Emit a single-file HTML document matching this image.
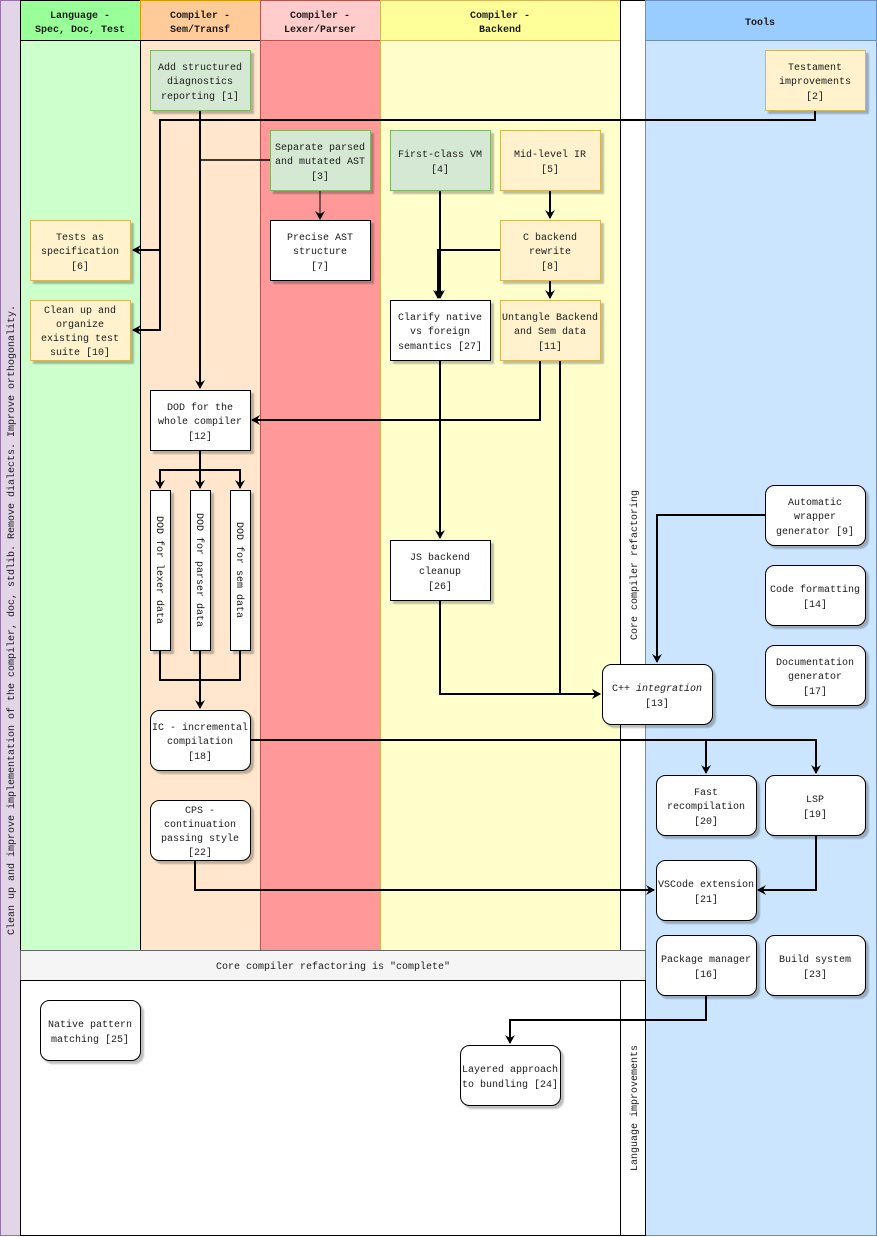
<!DOCTYPE html>
<html><head><meta charset="utf-8"><style>
html,body{margin:0;padding:0;background:#fff}
svg{display:block}
text{font-family:"Liberation Mono","DejaVu Sans Mono",monospace;font-size:10px;fill:#1a1a1a}
.b{font-weight:bold}
</style></head><body>
<svg width="877" height="1237" viewBox="0 0 877 1237" xmlns="http://www.w3.org/2000/svg">
<defs>
<filter id="sh" x="-10%" y="-10%" width="130%" height="130%"><feDropShadow dx="3" dy="3" stdDeviation="0.8" flood-color="#000" flood-opacity="0.25"/></filter>
<marker id="a" markerWidth="10" markerHeight="10" refX="8" refY="5" orient="auto" markerUnits="userSpaceOnUse"><path d="M0,0 L9,5 L0,10 L3,5 Z" fill="#000"/></marker>
</defs>
<!-- left purple bar -->
<rect x="0.5" y="0.5" width="20" height="1235" fill="#e1d5e7" stroke="#9673a6"/>
<text transform="translate(14,620) rotate(-90)" text-anchor="middle">Clean up and improve implementation of the compiler, doc, stdlib. Remove dialects. Improve orthogonality.</text>
<!-- columns -->
<rect x="20.5" y="0.5" width="120" height="40" fill="#99ff99" stroke="#000"/>
<rect x="20.5" y="40.5" width="120" height="910" fill="#ccffcc" stroke="#000"/>
<rect x="140.5" y="0.5" width="120" height="40" fill="#ffcc99" stroke="#d79b00"/>
<rect x="140.5" y="40.5" width="120" height="910" fill="#ffe6cc" stroke="#000"/>
<rect x="260.5" y="0.5" width="120" height="40" fill="#ffcccc" stroke="#b85450"/>
<rect x="260.5" y="40.5" width="120" height="910" fill="#ff9999" stroke="#b85450"/>
<rect x="380.5" y="0.5" width="240" height="40" fill="#ffff99" stroke="#d6b656"/>
<rect x="380.5" y="40.5" width="240" height="910" fill="#ffffcc" stroke="#d6b656"/>
<rect x="620.5" y="0.5" width="25" height="950" fill="#fff" stroke="#000"/>
<rect x="645.5" y="0.5" width="231" height="40" fill="#99ccff" stroke="#6c8ebf"/>
<rect x="645.5" y="40.5" width="231" height="1195" fill="#cce5ff" stroke="#6c8ebf"/>
<text class="b" x="80" y="18" text-anchor="middle">Language -</text>
<text class="b" x="80" y="32" text-anchor="middle">Spec, Doc, Test</text>
<text class="b" x="200" y="18" text-anchor="middle">Compiler -</text>
<text class="b" x="200" y="32" text-anchor="middle">Sem/Transf</text>
<text class="b" x="320" y="18" text-anchor="middle">Compiler -</text>
<text class="b" x="320" y="32" text-anchor="middle">Lexer/Parser</text>
<text class="b" x="500" y="18" text-anchor="middle">Compiler -</text>
<text class="b" x="500" y="32" text-anchor="middle">Backend</text>
<text class="b" x="760" y="25" text-anchor="middle">Tools</text>
<text transform="translate(637,565) rotate(-90)" text-anchor="middle">Core compiler  refactoring</text>
<!-- band -->
<rect x="20.5" y="950.5" width="625" height="30" fill="#f5f5f5" stroke="#666"/>
<text x="333" y="969" text-anchor="middle">Core compiler refactoring is "complete"</text>
<rect x="20.5" y="980.5" width="600" height="255" fill="#fff" stroke="#000"/>
<rect x="620.5" y="980.5" width="25" height="255" fill="#fff" stroke="#000"/>
<text transform="translate(637,1108) rotate(-90)" text-anchor="middle">Language improvements</text>

<!-- edges -->
<g fill="none" stroke="#000" stroke-width="2">
<path d="M200,110 V388" marker-end="url(#a)"/>
<path d="M200,160 H270" stroke-width="1.5"/>
<path d="M815,110 V120 H160 V330 H133" marker-end="url(#a)"/>
<path d="M160,250 H133" marker-end="url(#a)"/>
<path d="M320,190 V219" stroke-width="1" marker-end="url(#a)"/>
<path d="M440,190 V298" marker-end="url(#a)"/>
<path d="M500,250 H438 V298" marker-end="url(#a)"/>
<path d="M550,190 V218" marker-end="url(#a)"/>
<path d="M550,280 V298" marker-end="url(#a)"/>
<path d="M540,360 V420 H252" marker-end="url(#a)"/>
<path d="M560,360 V694 H600" marker-end="url(#a)"/>
<path d="M440,360 V538" marker-end="url(#a)"/>
<path d="M440,600 V694 H600" marker-end="url(#a)"/>
<path d="M765,515 H657 V662" marker-end="url(#a)"/>
<path d="M200,450 V470 H160 V488" marker-end="url(#a)"/>
<path d="M200,470 V488" marker-end="url(#a)"/>
<path d="M200,470 H240 V488" marker-end="url(#a)"/>
<path d="M160,650 V680 H240 V650"/>
<path d="M200,650 V708" marker-end="url(#a)"/>
<path d="M250,740 H816 V773" marker-end="url(#a)"/>
<path d="M706,740 V773" marker-end="url(#a)"/>
<path d="M195,860 V890 H654" marker-end="url(#a)"/>
<path d="M816,835 V890 H758" marker-end="url(#a)"/>
<path d="M706,995 V1020 H510 V1043" marker-end="url(#a)"/>
</g>

<!-- nodes -->
<g filter="url(#sh)" stroke-width="1">
<rect x="150.5" y="50.5" width="100" height="60" fill="#d5e8d4" stroke="#82b366"/>
<rect x="765.5" y="50.5" width="100" height="60" fill="#fff2cc" stroke="#d6b656"/>
<rect x="270.5" y="130.5" width="100" height="60" fill="#d5e8d4" stroke="#82b366"/>
<rect x="270.5" y="220.5" width="100" height="60" fill="#fff" stroke="#000"/>
<rect x="390.5" y="130.5" width="100" height="60" fill="#d5e8d4" stroke="#82b366"/>
<rect x="500.5" y="130.5" width="100" height="60" fill="#fff2cc" stroke="#d6b656"/>
<rect x="500.5" y="220.5" width="100" height="60" fill="#fff2cc" stroke="#d6b656"/>
<rect x="30.5" y="220.5" width="100" height="60" fill="#fff2cc" stroke="#d6b656"/>
<rect x="30.5" y="300.5" width="100" height="60" fill="#fff2cc" stroke="#d6b656"/>
<rect x="390.5" y="300.5" width="100" height="60" fill="#fff" stroke="#000"/>
<rect x="500.5" y="300.5" width="100" height="60" fill="#fff2cc" stroke="#d6b656"/>
<rect x="150.5" y="390.5" width="100" height="60" fill="#fff" stroke="#000"/>
<rect x="150.5" y="490.5" width="20" height="160" fill="#fff" stroke="#000"/>
<rect x="190.5" y="490.5" width="20" height="160" fill="#fff" stroke="#000"/>
<rect x="230.5" y="490.5" width="20" height="160" fill="#fff" stroke="#000"/>
<rect x="390.5" y="540.5" width="100" height="60" fill="#fff" stroke="#000"/>
<rect x="765.5" y="485.5" width="100" height="60" rx="9" fill="#fff" stroke="#000"/>
<rect x="765.5" y="565.5" width="100" height="60" rx="9" fill="#fff" stroke="#000"/>
<rect x="765.5" y="645.5" width="100" height="60" rx="9" fill="#fff" stroke="#000"/>
<rect x="602.5" y="664.5" width="110" height="60" rx="9" fill="#fff" stroke="#000"/>
<rect x="150.5" y="710.5" width="100" height="60" rx="9" fill="#fff" stroke="#000"/>
<rect x="656.5" y="775.5" width="100" height="60" rx="9" fill="#fff" stroke="#000"/>
<rect x="765.5" y="775.5" width="100" height="60" rx="9" fill="#fff" stroke="#000"/>
<rect x="150.5" y="800.5" width="100" height="60" rx="9" fill="#fff" stroke="#000"/>
<rect x="656.5" y="860.5" width="100" height="60" rx="9" fill="#fff" stroke="#000"/>
<rect x="656.5" y="935.5" width="100" height="60" rx="9" fill="#fff" stroke="#000"/>
<rect x="765.5" y="935.5" width="100" height="60" rx="9" fill="#fff" stroke="#000"/>
<rect x="40.5" y="1000.5" width="100" height="60" rx="9" fill="#fff" stroke="#000"/>
<rect x="460.5" y="1045.5" width="100" height="60" rx="9" fill="#fff" stroke="#000"/>
</g>

<g text-anchor="middle">
<text x="200" y="70">Add structured</text><text x="200" y="84">diagnostics</text><text x="200" y="99">reporting [1]</text>
<text x="815" y="70">Testament</text><text x="815" y="84">improvements</text><text x="815" y="99">[2]</text>
<text x="320" y="150">Separate parsed</text><text x="320" y="164">and mutated AST</text><text x="320" y="179">[3]</text>
<text x="320" y="240">Precise AST</text><text x="320" y="254">structure</text><text x="320" y="269">[7]</text>
<text x="440" y="157">First-class VM</text><text x="440" y="172">[4]</text>
<text x="550" y="157">Mid-level IR</text><text x="550" y="172">[5]</text>
<text x="550" y="240">C backend</text><text x="550" y="254">rewrite</text><text x="550" y="269">[8]</text>
<text x="80" y="240">Tests as</text><text x="80" y="254">specification</text><text x="80" y="269">[6]</text>
<text x="80" y="313">Clean up and</text><text x="80" y="327">organize</text><text x="80" y="341">existing test</text><text x="80" y="355">suite [10]</text>
<text x="440" y="320">Clarify native</text><text x="440" y="334">vs foreign</text><text x="440" y="349">semantics [27]</text>
<text x="550" y="320">Untangle Backend</text><text x="550" y="334">and Sem data</text><text x="550" y="349">[11]</text>
<text x="200" y="410">DOD for the</text><text x="200" y="424">whole compiler</text><text x="200" y="439">[12]</text>
<text x="440" y="560">JS backend</text><text x="440" y="574">cleanup</text><text x="440" y="589">[26]</text>
<text x="815" y="505">Automatic</text><text x="815" y="519">wrapper</text><text x="815" y="534">generator [9]</text>
<text x="815" y="592">Code formatting</text><text x="815" y="607">[14]</text>
<text x="815" y="665">Documentation</text><text x="815" y="679">generator</text><text x="815" y="694">[17]</text>
<text x="657" y="691">C++ <tspan font-style="italic">integration</tspan></text><text x="657" y="706">[13]</text>
<text x="200" y="730">IC - incremental</text><text x="200" y="744">compilation</text><text x="200" y="759">[18]</text>
<text x="706" y="795">Fast</text><text x="706" y="809">recompilation</text><text x="706" y="824">[20]</text>
<text x="815" y="802">LSP</text><text x="815" y="817">[19]</text>
<text x="200" y="813">CPS -</text><text x="200" y="827">continuation</text><text x="200" y="841">passing style</text><text x="200" y="855">[22]</text>
<text x="706" y="887">VSCode extension</text><text x="706" y="902">[21]</text>
<text x="706" y="962">Package manager</text><text x="706" y="977">[16]</text>
<text x="815" y="962">Build system</text><text x="815" y="977">[23]</text>
<text x="90" y="1027">Native pattern</text><text x="90" y="1042">matching [25]</text>
<text x="510" y="1072">Layered approach</text><text x="510" y="1087">to bundling [24]</text>
</g>
<text transform="translate(157,570) rotate(90)" text-anchor="middle">DOD for lexer data</text>
<text transform="translate(197,570) rotate(90)" text-anchor="middle">DOD for parser data</text>
<text transform="translate(237,570) rotate(90)" text-anchor="middle">DOD for sem data</text>
</svg>
</body></html>
